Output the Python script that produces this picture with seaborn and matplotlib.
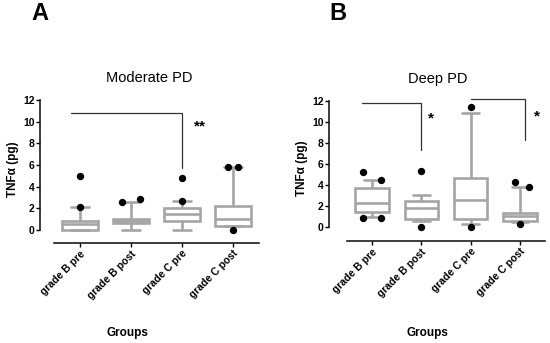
import matplotlib
matplotlib.use("Agg")
import matplotlib.pyplot as plt
import seaborn as sns
import pandas as pd

sns.set_theme(style="ticks")
plt.rcParams['font.family'] = ['Liberation Sans', 'DejaVu Sans']
plt.rcParams['text.color'] = 'black'
plt.rcParams['axes.labelcolor'] = 'black'
plt.rcParams['xtick.color'] = 'black'
plt.rcParams['ytick.color'] = 'black'

groups = ["grade B pre", "grade B post", "grade C pre", "grade C post"]

# Box summaries: [lower whisker, Q1, median, Q3, upper whisker]
moderate_whislo = [0.0, 0.0, 0.0, 0.4]
moderate_q1 = [0.0, 0.62, 0.86, 0.4]
moderate_med = [0.52, 0.83, 1.48, 0.98]
moderate_q3 = [0.86, 0.98, 2.06, 2.25]
moderate_whishi = [2.15, 2.55, 2.7, 5.78]
moderate_flier_group = [0, 0, 1, 1, 2, 2, 3, 3, 3]
moderate_flier_dx = [0, 0, -0.18, 0.18, 0, 0, -0.1, 0.1, 0]
moderate_flier_val = [2.15, 5.0, 2.55, 2.9, 2.7, 4.77, 5.8, 5.8, 0.0]

deep_whislo = [0.9, 0.54, 0.25, 0.41]
deep_q1 = [1.37, 0.76, 0.73, 0.57]
deep_med = [2.22, 1.81, 2.54, 1.05]
deep_q3 = [3.71, 2.48, 4.67, 1.33]
deep_whishi = [4.44, 2.98, 10.86, 3.75]
deep_flier_group = [0, 0, 0, 0, 1, 1, 2, 2, 3, 3, 3]
deep_flier_dx = [-0.18, 0.18, -0.18, 0.18, 0, 0, 0, 0, -0.1, 0.18, 0]
deep_flier_val = [5.17, 4.44, 0.86, 0.86, 5.33, 0.0, 11.37, 0.0, 4.22, 3.75, 0.29]

# significance brackets: (x_start, x_end, y_top, y_drop, label, label_x, label_y)
moderate_brackets = [(-0.18, 2.0, 10.8, 5.7, "**", 2.35, 9.6)]
deep_brackets = [(-0.21, 1.0, 11.75, 7.3, "*", 1.2, 10.3),
                 (2.0, 3.1, 12.2, 8.25, "*", 3.35, 10.5)]

box_color = "#a5a5a5"


def panel(ax, lo, q1, med, q3, hi, fg, fdx, fv, brackets, title, xlim, ylim, width,
          xlab_x, xlab_y):
    rows = []
    for g, a, b, c, d, e in zip(groups, lo, q1, med, q3, hi):
        for v in (a, b, c, d, e):
            rows.append({"Groups": g, "val": v})
    df = pd.DataFrame(rows)
    sns.boxplot(data=df, x="Groups", y="val", order=groups, whis=(0, 100),
                width=width, color="white", linecolor=box_color, linewidth=1.9,
                showfliers=False, ax=ax)
    fx = [g + d for g, d in zip(fg, fdx)]
    sns.scatterplot(x=fx, y=fv, color="black", s=28, edgecolor="black",
                    linewidth=0, ax=ax, zorder=5, clip_on=False)
    for x0, x1, yt, yd, lab, lx, ly in brackets:
        ax.plot([x0, x1, x1], [yt, yt, yd], color="#333333", lw=0.9, clip_on=False)
        ax.text(lx, ly, lab, ha="center", va="center", fontsize=11, fontweight="bold")
    ax.set_xlim(*xlim)
    ax.set_ylim(*ylim)
    ax.set_yticks([0, 2, 4, 6, 8, 10, 12])
    for s in ("top", "right"):
        ax.spines[s].set_visible(False)
    ax.spines["left"].set_bounds(0, 12)
    ax.spines["bottom"].set_bounds(-0.5, 3.5)
    for s in ("left", "bottom"):
        ax.spines[s].set_linewidth(1.2)
        ax.spines[s].set_color("#1a1a1a")
    ax.tick_params(axis="y", length=3, width=1, labelsize=7.5, pad=1)
    ax.tick_params(axis="x", length=3, width=1, labelsize=7.5, pad=1)
    for t in ax.get_yticklabels():
        t.set_fontweight("bold")
    ax.set_xticks(range(4))
    ax.set_xticklabels(groups, rotation=45, ha="right", rotation_mode="anchor",
                       fontweight="bold", fontsize=7.5)
    ax.set_ylabel("TNFα (pg)", fontsize=8.5, fontweight="bold", labelpad=3)
    ax.set_xlabel("Groups", fontsize=8.5, fontweight="bold")
    ax.xaxis.set_label_coords(xlab_x, xlab_y)
    ax.set_title(title, fontsize=10.5, pad=9)


fig = plt.figure(figsize=(5.5, 3.43), dpi=100)
axA = fig.add_axes([0.0727, 0.2915, 0.3973, 0.4327])
axB = fig.add_axes([0.5982, 0.2974, 0.3964, 0.4243])

panel(axA, moderate_whislo, moderate_q1, moderate_med, moderate_q3, moderate_whishi,
      moderate_flier_group, moderate_flier_dx, moderate_flier_val, moderate_brackets,
      "Moderate PD", (-0.784, 3.5), (-1.2, 12.5), 0.7, 0.40, -0.566)
panel(axB, deep_whislo, deep_q1, deep_med, deep_q3, deep_whishi,
      deep_flier_group, deep_flier_dx, deep_flier_val, deep_brackets,
      "Deep PD", (-0.872, 3.55), (-1.36, 12.5), 0.68, 0.45, -0.59)

fig.text(0.058, 0.995, "A", fontsize=17, fontweight="bold", ha="left", va="top")
fig.text(0.598, 0.995, "B", fontsize=17, fontweight="bold", ha="left", va="top")

fig.savefig("out.png", dpi=100)
